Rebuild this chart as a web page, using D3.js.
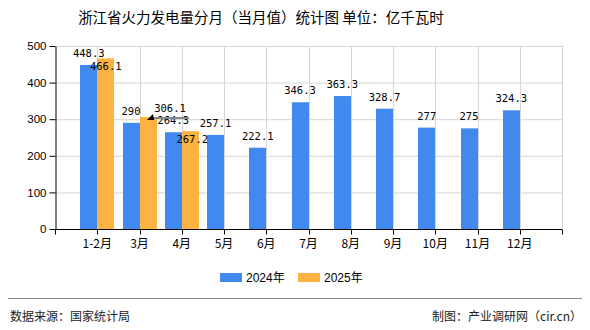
<!DOCTYPE html>
<html><head><meta charset="utf-8">
<script src="https://cdn.jsdelivr.net/npm/d3@7/dist/d3.min.js"></script>
<style>body{margin:0;background:#fff}svg{display:block}</style>
</head><body>
<script>
const categories = ["1-2月","3月","4月","5月","6月","7月","8月","9月","10月","11月","12月"];
const s2024 = [448.3,290,264.3,257.1,222.1,346.3,363.3,328.7,277,275,324.3];
const s2025 = [466.1,306.1,267.2];
const yTicks = [0,100,200,300,400,500];
const seriesNames = ["2024年","2025年"];
const colors = ["#4189EE","#FDB241"];

const W=590,H=330;
const svg=d3.select("body").append("svg").attr("width",W).attr("height",H);
const x=d3.scaleLinear().domain([0,12]).range([55,562]);
const y=d3.scaleLinear().domain([0,500]).range([229,46]);
const bw=17;
const cjk="'Noto Sans CJK SC','Noto Sans',sans-serif";
const mono="'DejaVu Sans Mono',monospace";

// title
svg.append("text").attr("x",261).attr("y",23).attr("text-anchor","middle")
  .style("font-family",cjk).style("font-size","14.5px").style("font-weight","400").attr("fill","#000")
  .text("浙江省火力发电量分月（当月值）统计图 单位：亿千瓦时");

// grid
const g=svg.append("g");
g.selectAll(".hg").data(yTicks.slice(1)).join("line")
  .attr("x1",x(0)).attr("x2",x(12)).attr("y1",d=>y(d)+0.5).attr("y2",d=>y(d)+0.5)
  .attr("stroke","#d6d6d6");
g.selectAll(".vg").data(d3.range(1,13)).join("line")
  .attr("x1",d=>Math.round(x(d))+0.5).attr("x2",d=>Math.round(x(d))+0.5).attr("y1",y(500)).attr("y2",y(0))
  .attr("stroke","#d6d6d6");

// bars
const bars=svg.append("g");
bars.selectAll(".b1").data(s2024).join("rect")
  .attr("x",(d,i)=>Math.round(x(i+1))-bw).attr("width",bw)
  .attr("y",d=>y(d)).attr("height",d=>y(0)-y(d)).attr("fill",colors[0]);
bars.selectAll(".b2").data(s2025).join("rect")
  .attr("x",(d,i)=>Math.round(x(i+1))).attr("width",bw)
  .attr("y",d=>y(d)).attr("height",d=>y(0)-y(d)).attr("fill",colors[1]);

// axes
const yAxis=d3.axisLeft(y).tickValues(yTicks).tickSize(6).tickSizeOuter(0).tickPadding(3);
const ya=svg.append("g").attr("transform","translate(55.5,0)").call(yAxis);
ya.select(".domain").attr("stroke","#000");
ya.selectAll("text").style("font-family","'Liberation Sans',sans-serif").style("font-size","11.5px").attr("fill","#000");

const xa=svg.append("g").attr("transform","translate(0,229.5)");
xa.append("line").attr("x1",55).attr("x2",562).attr("stroke","#000");
xa.selectAll(".xt").data(d3.range(0,13)).join("line")
  .attr("x1",d=>Math.round(x(d))+0.5).attr("x2",d=>Math.round(x(d))+0.5).attr("y1",0).attr("y2",5).attr("stroke","#000");
xa.selectAll(".xl").data(categories).join("text")
  .attr("x",(d,i)=>x(i+1)).attr("y",18).attr("text-anchor","middle")
  .style("font-family",cjk).style("font-size","12px").attr("fill","#000").text(d=>d);

// labels
const lab=svg.append("g").style("font-family",mono).style("font-size","10.5px").attr("fill","#000");
lab.selectAll(".l1").data(s2024).join("text")
  .attr("x",(d,i)=>x(i+1)-bw/2).attr("y",d=>y(d)-8).attr("text-anchor","middle").text(d=>d);
const shift2025=[[0,20],[22,3],[2,20]];
lab.selectAll(".l2").data(s2025).join("text")
  .attr("x",(d,i)=>x(i+1)+bw/2+shift2025[i][0]).attr("y",(d,i)=>y(d)-8+shift2025[i][1]).attr("text-anchor","middle").text(d=>d);
// leader for 306.1
{
  const i=1,d=s2025[1];
  const bx=x(i+1)+bw/2+2;
  const lx=x(i+1)+bw/2+shift2025[i][0];
  const ly=y(d)-8+shift2025[i][1]+6;
  svg.append("line").attr("x1",bx).attr("y1",ly).attr("x2",lx+19).attr("y2",ly).attr("stroke","#888").attr("stroke-width",2);
  svg.append("path").attr("d",`M${bx-3},${ly+2}L${bx+3},${ly-4}L${bx+4},${ly+2}Z`).attr("fill","#000");
}

// legend
const leg=svg.append("g");
const lx0=[220,298];
seriesNames.forEach((n,i)=>{
  leg.append("rect").attr("x",lx0[i]).attr("y",273).attr("width",22).attr("height",9).attr("fill",colors[i]);
  leg.append("text").attr("x",lx0[i]+26).attr("y",281.5).style("font-family","'Liberation Sans',"+cjk).style("font-size","12px").attr("fill","#000").text(n);
});

// footer
svg.append("line").attr("x1",8).attr("x2",582).attr("y1",298.5).attr("y2",298.5).attr("stroke","#888");
svg.append("text").attr("x",10).attr("y",321).style("font-family",cjk).style("font-size","12px").attr("fill","#222").text("数据来源：国家统计局");
svg.append("text").attr("x",582).attr("y",321).attr("text-anchor","end").style("font-family",cjk).style("font-size","12px").attr("fill","#222").text("制图：产业调研网（cir.cn）");
</script>
</body></html>
